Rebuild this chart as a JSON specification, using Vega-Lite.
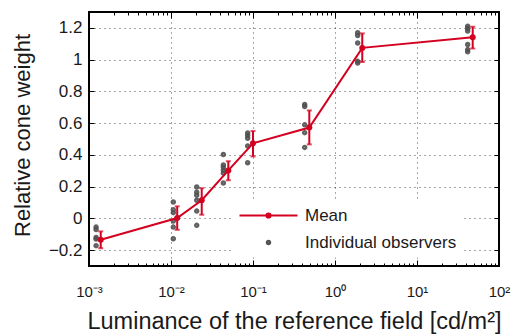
{
  "$schema": "https://vega.github.io/schema/vega-lite/v6.json",
  "width": 410,
  "height": 254,
  "autosize": {"type": "none"},
  "padding": {"left": 89, "top": 12, "right": 13, "bottom": 68},
  "background": "white",
  "config": {
    "view": {"stroke": "#000", "strokeWidth": 2},
    "font": "Liberation Sans",
    "axis": {"labelFont": "Liberation Sans", "titleFont": "Liberation Sans", "labelColor": "#1a1a1a", "titleColor": "#1a1a1a", "titleFontWeight": "normal", "tickColor": "#000", "domain": false, "labelFlush": false, "labelOverlap": false, "labelBound": false},
    "legend": {"orient": "none", "legendX": 143, "legendY": 189, "title": null, "padding": 6, "fillColor": "white", "strokeColor": "transparent",
      "symbolSize": 196, "symbolStrokeWidth": 2, "symbolOffset": 22, "labelOffset": 28, "labelFontSize": 17, "labelFont": "Liberation Sans", "labelColor": "#1a1a1a", "rowPadding": 9, "labelLimit": 300, "symbolOpacity": 1}
  },
  "datasets": {
    "means": [
      {"lum": 0.00139, "mean": -0.135, "lo": -0.188, "hi": -0.082},
      {"lum": 0.0119, "mean": 0.002, "lo": -0.072, "hi": 0.076},
      {"lum": 0.0237, "mean": 0.114, "lo": 0.023, "hi": 0.19},
      {"lum": 0.05, "mean": 0.302, "lo": 0.24, "hi": 0.36},
      {"lum": 0.1, "mean": 0.473, "lo": 0.39, "hi": 0.55},
      {"lum": 0.486, "mean": 0.572, "lo": 0.466, "hi": 0.68},
      {"lum": 2.15, "mean": 1.074, "lo": 0.985, "hi": 1.165},
      {"lum": 47.8, "mean": 1.141, "lo": 1.07, "hi": 1.207}
    ],
    "obs": [
      {"lum": 0.00122, "w": -0.055, "series": "Individual observers"},
      {"lum": 0.00122, "w": -0.07, "series": "Individual observers"},
      {"lum": 0.00122, "w": -0.12, "series": "Individual observers"},
      {"lum": 0.00122, "w": -0.13, "series": "Individual observers"},
      {"lum": 0.00122, "w": -0.172, "series": "Individual observers"},
      {"lum": 0.01067, "w": 0.103, "series": "Individual observers"},
      {"lum": 0.01067, "w": 0.055, "series": "Individual observers"},
      {"lum": 0.01067, "w": 0.036, "series": "Individual observers"},
      {"lum": 0.01067, "w": -0.017, "series": "Individual observers"},
      {"lum": 0.01067, "w": -0.055, "series": "Individual observers"},
      {"lum": 0.01067, "w": -0.128, "series": "Individual observers"},
      {"lum": 0.0206, "w": 0.198, "series": "Individual observers"},
      {"lum": 0.0206, "w": 0.165, "series": "Individual observers"},
      {"lum": 0.0206, "w": 0.146, "series": "Individual observers"},
      {"lum": 0.0206, "w": 0.114, "series": "Individual observers"},
      {"lum": 0.0206, "w": 0.046, "series": "Individual observers"},
      {"lum": 0.0206, "w": -0.044, "series": "Individual observers"},
      {"lum": 0.0435, "w": 0.402, "series": "Individual observers"},
      {"lum": 0.0435, "w": 0.337, "series": "Individual observers"},
      {"lum": 0.0435, "w": 0.322, "series": "Individual observers"},
      {"lum": 0.0435, "w": 0.303, "series": "Individual observers"},
      {"lum": 0.0435, "w": 0.285, "series": "Individual observers"},
      {"lum": 0.0435, "w": 0.223, "series": "Individual observers"},
      {"lum": 0.0861, "w": 0.538, "series": "Individual observers"},
      {"lum": 0.0861, "w": 0.522, "series": "Individual observers"},
      {"lum": 0.0861, "w": 0.505, "series": "Individual observers"},
      {"lum": 0.0861, "w": 0.456, "series": "Individual observers"},
      {"lum": 0.0861, "w": 0.35, "series": "Individual observers"},
      {"lum": 0.427, "w": 0.718, "series": "Individual observers"},
      {"lum": 0.427, "w": 0.705, "series": "Individual observers"},
      {"lum": 0.427, "w": 0.589, "series": "Individual observers"},
      {"lum": 0.427, "w": 0.54, "series": "Individual observers"},
      {"lum": 0.427, "w": 0.447, "series": "Individual observers"},
      {"lum": 1.89, "w": 1.169, "series": "Individual observers"},
      {"lum": 1.89, "w": 1.152, "series": "Individual observers"},
      {"lum": 1.89, "w": 1.105, "series": "Individual observers"},
      {"lum": 1.89, "w": 0.989, "series": "Individual observers"},
      {"lum": 1.89, "w": 0.979, "series": "Individual observers"},
      {"lum": 41.5, "w": 1.21, "series": "Individual observers"},
      {"lum": 41.5, "w": 1.196, "series": "Individual observers"},
      {"lum": 41.5, "w": 1.18, "series": "Individual observers"},
      {"lum": 41.5, "w": 1.095, "series": "Individual observers"},
      {"lum": 41.5, "w": 1.063, "series": "Individual observers"},
      {"lum": 41.5, "w": 1.049, "series": "Individual observers"}
    ]
  },
  "layer": [
    {
      "data": {"name": "obs"},
      "mark": {"type": "point", "filled": false, "size": 196, "strokeWidth": 2, "opacity": 0.9},
      "encoding": {
        "x": {"field": "lum", "type": "quantitative", "scale": {"type": "log", "domain": [0.001, 100], "nice": false},
          "axis": {"orient": "bottom", "values": [0.001, 0.01, 0.1, 1, 10, 100],
            "labelExpr": "datum.value < 0.005 ? '10⁻³' : datum.value < 0.05 ? '10⁻²' : datum.value < 0.5 ? '10⁻¹' : datum.value < 5 ? '10⁰' : datum.value < 50 ? '10¹' : '10²'",
            "labelFontSize": 15, "labelPadding": 24, "tickSize": -6, "grid": true, "gridDash": [1, 4], "gridColor": "#000", "gridOpacity": 0.7,
            "title": "Luminance of the reference field [cd/m²]", "titleFontSize": 23.5, "titleY": 62, "titleBaseline": "alphabetic"}},
        "y": {"field": "w", "type": "quantitative", "scale": {"domain": [-0.3, 1.3], "nice": false, "zero": false},
          "axis": {"orient": "left", "values": [-0.2, 0, 0.2, 0.4, 0.6, 0.8, 1, 1.2], "format": "~g", "labelFontSize": 17, "labelPadding": 12, "tickSize": -5,
            "grid": true, "gridDash": [1, 4], "gridColor": "#000", "gridOpacity": 0.7,
            "title": "Relative cone weight", "titleFontSize": 22, "titleX": -60, "titleY": 123, "titleBaseline": "alphabetic"}},
        "color": {"field": "series", "type": "nominal",
          "scale": {"domain": ["Mean", "Individual observers"], "range": ["#d40020", "#505050"]}},
        "shape": {"field": "series", "type": "nominal",
          "scale": {"domain": ["Mean", "Individual observers"], "range": [
            "M-4.143,0H4.143M-0.3,0A0.3,0.3,0,1,0,0.3,0A0.3,0.3,0,1,0,-0.3,0M-0.12,0A0.12,0.12,0,1,0,0.12,0A0.12,0.12,0,1,0,-0.12,0",
            "M-0.25,0A0.25,0.25,0,1,0,0.25,0A0.25,0.25,0,1,0,-0.25,0M-0.1,0A0.1,0.1,0,1,0,0.1,0A0.1,0.1,0,1,0,-0.1,0"]}}
      }
    },
    {
      "data": {"name": "means"},
      "mark": {"type": "rule", "color": "#d40020", "strokeWidth": 2},
      "encoding": {
        "x": {"field": "lum", "type": "quantitative", "scale": {"type": "log", "domain": [0.001, 100], "nice": false},
          "axis": {"orient": "bottom", "values": [0.002,0.003,0.004,0.005,0.006,0.007,0.008,0.009,0.02,0.03,0.04,0.05,0.06,0.07,0.08,0.09,0.2,0.3,0.4,0.5,0.6,0.7,0.8,0.9,2,3,4,5,6,7,8,9,20,30,40,50,60,70,80,90],
            "labels": false, "grid": false, "tickSize": -3, "title": null}},
        "y": {"field": "lo", "type": "quantitative", "scale": {"domain": [-0.3, 1.3], "nice": false, "zero": false},
          "axis": {"orient": "right", "values": [-0.2, 0, 0.2, 0.4, 0.6, 0.8, 1, 1.2], "labels": false, "grid": false, "tickSize": -5, "title": null}},
        "y2": {"field": "hi"}
      }
    },
    {
      "data": {"name": "means"},
      "mark": {"type": "tick", "orient": "horizontal", "color": "#d40020", "size": 5, "thickness": 2},
      "encoding": {
        "x": {"field": "lum", "type": "quantitative", "scale": {"type": "log", "domain": [0.001, 100], "nice": false},
          "axis": {"orient": "top", "values": [0.001, 0.01, 0.1, 1, 10, 100], "labels": false, "grid": false, "tickSize": -6, "title": null}},
        "y": {"field": "lo", "type": "quantitative", "scale": {"domain": [-0.3, 1.3], "nice": false, "zero": false}, "axis": null}
      }
    },
    {
      "data": {"name": "means"},
      "mark": {"type": "tick", "orient": "horizontal", "color": "#d40020", "size": 5, "thickness": 2},
      "encoding": {
        "x": {"field": "lum", "type": "quantitative", "scale": {"type": "log", "domain": [0.001, 100], "nice": false},
          "axis": {"orient": "top", "values": [0.002,0.003,0.004,0.005,0.006,0.007,0.008,0.009,0.02,0.03,0.04,0.05,0.06,0.07,0.08,0.09,0.2,0.3,0.4,0.5,0.6,0.7,0.8,0.9,2,3,4,5,6,7,8,9,20,30,40,50,60,70,80,90],
            "labels": false, "grid": false, "tickSize": -3, "title": null}},
        "y": {"field": "hi", "type": "quantitative", "scale": {"domain": [-0.3, 1.3], "nice": false, "zero": false}, "axis": null}
      }
    },
    {
      "data": {"name": "means"},
      "mark": {"type": "line", "strokeWidth": 2, "color": "#d40020"},
      "encoding": {
        "x": {"field": "lum", "type": "quantitative", "scale": {"type": "log", "domain": [0.001, 100], "nice": false}, "axis": null},
        "y": {"field": "mean", "type": "quantitative", "scale": {"domain": [-0.3, 1.3], "nice": false, "zero": false}, "axis": null}
      }
    },
    {
      "data": {"name": "means"},
      "mark": {"type": "circle", "size": 36, "color": "#d40020", "opacity": 1},
      "encoding": {
        "x": {"field": "lum", "type": "quantitative", "scale": {"type": "log", "domain": [0.001, 100], "nice": false}, "axis": null},
        "y": {"field": "mean", "type": "quantitative", "scale": {"domain": [-0.3, 1.3], "nice": false, "zero": false}, "axis": null}
      }
    }
  ],
  "resolve": {"axis": {"x": "independent", "y": "independent"}}
}
